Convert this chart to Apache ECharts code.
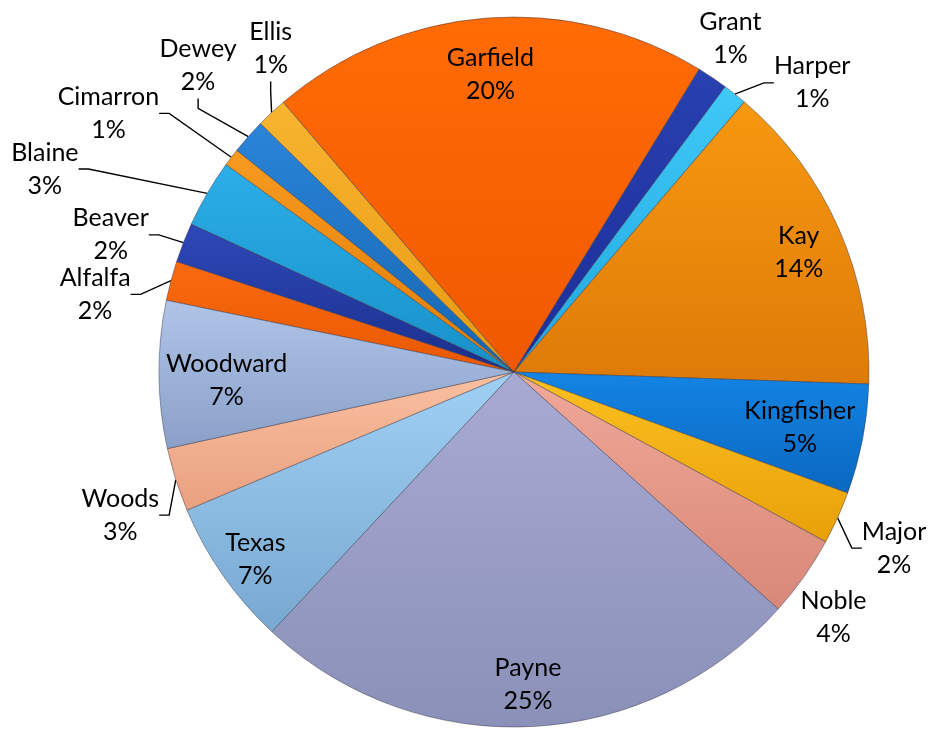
<!DOCTYPE html>
<html>
<head>
<meta charset="utf-8">
<script src="https://cdn.jsdelivr.net/npm/echarts@6/dist/echarts.min.js"></script>
<style>
html,body{margin:0;padding:0;background:#fff;}
#chart{width:930px;height:730px;}
</style>
</head>
<body>
<div id="chart"></div>
<script>
// ---- data ----
const categories = ['Alfalfa','Beaver','Blaine','Cimarron','Dewey','Ellis','Garfield','Grant','Harper','Kay','Kingfisher','Major','Noble','Payne','Texas','Woods','Woodward'];
const values = [1.8, 1.8, 3.1, 0.8, 1.6, 1.4, 20.0, 1.4, 1.1, 14.3, 5.0, 2.4, 3.7, 25.3, 6.7, 2.9, 6.7];

// ---- styles ----
const colorsTop =    ['#FA6A10','#2E48B8','#2CAEE8','#F89A20','#2A84D8','#F8B430','#FF6C05','#2840B0','#40C8F8','#F7980F','#1484E4','#FCC020','#F0A898','#A8AAD4','#A0D0F4','#FAC0A0','#B0C4E8'];
const colorsBottom = ['#E85800','#1A2F8C','#1890C8','#E07C08','#1666B0','#E89A10','#F05800','#1C2E98','#20A8E0','#DE7A08','#0A68C0','#E8A008','#D88878','#8A90B8','#78A8D0','#E8A080','#8AA0C8'];
const insideLabel = [false,false,false,false,false,false,true,false,false,true,true,false,false,true,true,false,true];
const showLeader  = [true,true,true,true,true,true,false,false,true,false,false,true,false,false,false,true,false];
const labelRadiusFactor = [1.20,1.20,1.44,1.355,1.24,1.14,0.84,1.12,1.17,0.87,0.82,1.18,1.135,0.88,0.90,1.18,0.81];
const labelAngleNudge   = [-4.4,-2.6,-6.8,-4.7,2.6,6.1,0,-1,7.4,1,0,0.6,2.3,0,-1,-2.3,-1.2];

const CX = 514, CY = 372, R = 355;
const START_CW = 281.66; // clockwise from 12 o'clock
const startAngle = 90 - START_CW + 360;

const total = values.reduce((a, b) => a + b, 0);
const cum = [];
values.reduce((acc, v, i) => { cum[i] = acc; return acc + v; }, 0);

function pctText(v) { return Math.round(v / total * 100) + '%'; }

const data = categories.map((name, i) => ({
  name: name,
  value: values[i],
  itemStyle: {
    color: new echarts.graphic.LinearGradient(0, 0, 0, 1, [
      { offset: 0, color: colorsTop[i] },
      { offset: 1, color: colorsBottom[i] }
    ])
  },
  label: { position: insideLabel[i] ? 'inside' : 'outside' },
  labelLine: { show: showLeader[i] }
}));

const chart = echarts.init(document.getElementById('chart'), null, { renderer: 'canvas' });
chart.setOption({
  backgroundColor: '#ffffff',
  animation: false,
  series: [{
    type: 'pie',
    center: [CX, CY],
    radius: R,
    startAngle: startAngle,
    clockwise: true,
    avoidLabelOverlap: false,
    data: data,
    itemStyle: {
      borderColor: 'rgba(50,50,70,0.45)',
      borderWidth: 1
    },
    label: {
      show: true,
      fontFamily: 'Lato',
      fontSize: 25,
      lineHeight: 33,
      color: '#000',
      align: 'center',
      formatter: p => p.name + '\n' + pctText(p.value)
    },
    labelLine: {
      show: true,
      length: 10,
      length2: 10,
      smooth: false,
      lineStyle: { color: '#000', width: 1.4 }
    },
    labelLayout: function (params) {
      const i = params.dataIndex;
      const midCW = START_CW + (cum[i] + values[i] / 2) / total * 360 + labelAngleNudge[i];
      const a = midCW * Math.PI / 180;
      const r = R * labelRadiusFactor[i];
      return {
        x: CX + r * Math.sin(a),
        y: CY - r * Math.cos(a),
        align: 'center',
        verticalAlign: 'middle'
      };
    }
  }]
});
</script>
</body>
</html>
